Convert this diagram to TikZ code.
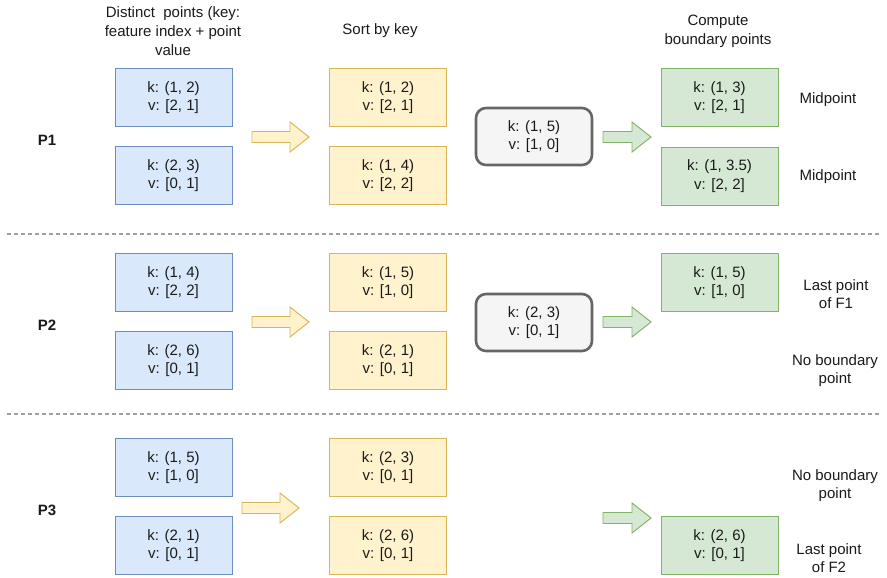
\documentclass[tikz,border=0pt]{standalone}
\usepackage{fontspec}
\setmainfont{Liberation Sans}
\begin{document}
\definecolor{bluefill}{HTML}{DAE8FC}\definecolor{bluedraw}{HTML}{6C8EBF}
\definecolor{yelfill}{HTML}{FFF2CC}\definecolor{yeldraw}{HTML}{D6B656}
\definecolor{grnfill}{HTML}{D5E8D4}\definecolor{grndraw}{HTML}{82B366}
\definecolor{gryfill}{HTML}{F5F5F5}\definecolor{grydraw}{HTML}{666666}
\definecolor{ink}{HTML}{1A1A1A}
\tikzset{
  kv/.style={minimum width=117pt, minimum height=58pt, inner sep=0pt, line width=0.95pt,
    align=center, text=ink, font=\fontsize{15}{18.5}\selectfont},
  bluebox/.style={kv, draw=bluedraw, fill=bluefill},
  yelbox/.style={kv, draw=yeldraw, fill=yelfill},
  grnbox/.style={kv, draw=grndraw, fill=grnfill},
  grybox/.style={kv, minimum width=116pt, minimum height=57pt, draw=grydraw, fill=gryfill,
    line width=2.6pt, rounded corners=10pt},
  lbl/.style={align=center, text=ink, font=\fontsize{15}{18}\selectfont, inner sep=0pt},
  hdr/.style={align=center, text=ink, font=\fontsize{15}{19}\selectfont, inner sep=0pt},
  plbl/.style={text=ink, font=\fontsize{15}{18}\selectfont\bfseries, inner sep=0pt},
  yelarrow/.style={draw=yeldraw, fill=yelfill, line width=0.95pt, line join=miter},
  grnarrow/.style={draw=grndraw, fill=grnfill, line width=0.95pt, line join=miter},
  sep/.style={draw=gray!75, line width=1.1pt, dash pattern=on 4pt off 3pt}
}
% block arrow: style, start x, centre y, total length
\newcommand\blockarrow[4]{%
  \draw[#1] (#2,#3-5.5) -- (#2+#4-19,#3-5.5) -- (#2+#4-19,#3-15) -- (#2+#4,#3)
    -- (#2+#4-19,#3+15) -- (#2+#4-19,#3+5.5) -- (#2,#3+5.5) -- cycle;}
\begin{tikzpicture}[x=1pt,y=-1pt]
\useasboundingbox (0,0) rectangle (887,578);

% column headings
\node[hdr] (h1) at (173,31) {Distinct\ \ points (key:\\feature index + point\\value};
\node[hdr] (h2) at (380,31) {Sort by key};
\node[hdr] (h3) at (718,31) {Compute\\boundary points};

% partition labels
\node[plbl] (p1) at (47,140) {P1};
\node[plbl] (p2) at (47,325) {P2};
\node[plbl] (p3) at (47,510) {P3};

% separators
\draw[sep] (7,234) -- (882,234);
\draw[sep] (7,414) -- (882,414);

% P1
\node[bluebox] (b11) at (173.5,97.5) {k: (1, 2)\\v: [2, 1]};
\node[bluebox] (b12) at (173.5,175.5) {k: (2, 3)\\v: [0, 1]};
\node[yelbox] (y11) at (388,97.5) {k: (1, 2)\\v: [2, 1]};
\node[yelbox] (y12) at (388,175.5) {k: (1, 4)\\v: [2, 2]};
\node[grybox] (g1) at (534,136.5) {k: (1, 5)\\v: [1, 0]};
\node[grnbox] (n11) at (719.5,97.5) {k: (1, 3)\\v: [2, 1]};
\node[grnbox] (n12) at (719.5,176) {k: (1, 3.5)\\v: [2, 2]};
\node[lbl] (r11) at (828,100) {Midpoint};
\node[lbl] (r12) at (828,177) {Midpoint};
\blockarrow{yelarrow}{252}{137}{57}
\blockarrow{grnarrow}{603}{137}{48}

% P2
\node[bluebox] (b21) at (173.5,282.5) {k: (1, 4)\\v: [2, 2]};
\node[bluebox] (b22) at (173.5,360.5) {k: (2, 6)\\v: [0, 1]};
\node[yelbox] (y21) at (388,282.5) {k: (1, 5)\\v: [1, 0]};
\node[yelbox] (y22) at (388,360.5) {k: (2, 1)\\v: [0, 1]};
\node[grybox] (g2) at (534,322.5) {k: (2, 3)\\v: [0, 1]};
\node[grnbox] (n21) at (719.5,282.5) {k: (1, 5)\\v: [1, 0]};
\node[lbl] (r21) at (836,294.5) {Last point\\of F1};
\node[lbl] (r22) at (835,371) {No boundary\\point};
\blockarrow{yelarrow}{252}{322}{57}
\blockarrow{grnarrow}{603}{322}{48}

% P3
\node[bluebox] (b31) at (173.5,467.5) {k: (1, 5)\\v: [1, 0]};
\node[bluebox] (b32) at (173.5,545.5) {k: (2, 1)\\v: [0, 1]};
\node[yelbox] (y31) at (388,467.5) {k: (2, 3)\\v: [0, 1]};
\node[yelbox] (y32) at (388,545.5) {k: (2, 6)\\v: [0, 1]};
\node[grnbox] (n31) at (719.5,545.5) {k: (2, 6)\\v: [0, 1]};
\node[lbl] (r31) at (835,486) {No boundary\\point};
\node[lbl] (r32) at (829,558) {Last point\\of F2};
\blockarrow{yelarrow}{242}{508}{57}
\blockarrow{grnarrow}{603}{518}{48}
\end{tikzpicture}
\end{document}
